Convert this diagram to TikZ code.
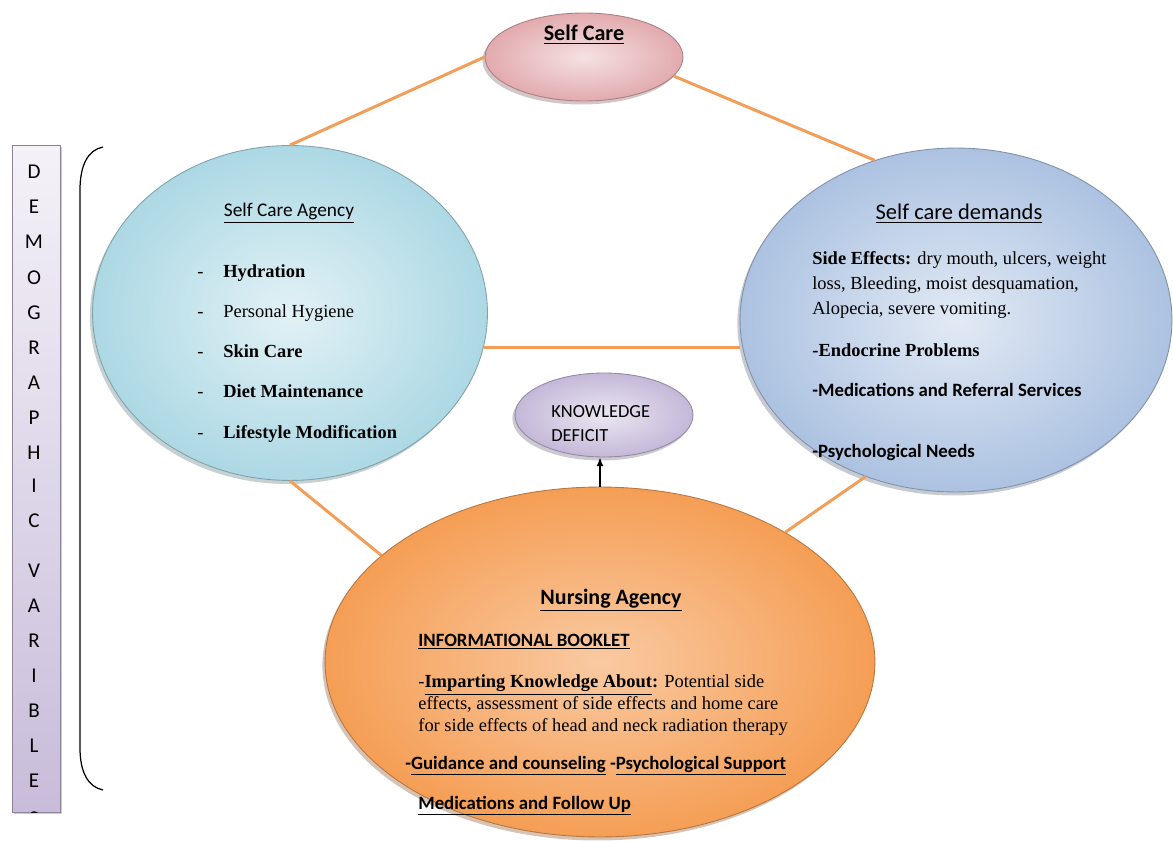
\documentclass[tikz,border=0pt]{standalone}
\usepackage{fontspec}
\setmainfont{Liberation Serif}
\newfontfamily\calibri{Carlito}
\usepackage{xcolor}
\usetikzlibrary{arrows.meta,shapes.geometric,shadows}

\definecolor{linkorange}{RGB}{242,158,88}
\definecolor{agencyblue}{RGB}{172,216,228}
\definecolor{demandblue}{RGB}{172,194,225}
\definecolor{nursingorange}{RGB}{245,158,85}
\definecolor{carepink}{RGB}{226,170,174}
\definecolor{deficitlilac}{RGB}{196,184,216}
\definecolor{barlilac}{RGB}{200,188,218}

\begin{document}
\begin{tikzpicture}[x=0.02cm,y=-0.02cm,
	bubble/.style={ellipse,draw=#1!75!black,line width=0.5pt,inner color=#1!35,outer color=#1,
		drop shadow={shadow xshift=-1.5pt,shadow yshift=-2pt,fill=#1!55!black,opacity=0.35}},
	orangelink/.style={draw=linkorange,line width=1.7pt},
	headtxt/.style={font=\calibri\fontsize{11}{13}\selectfont,anchor=base,inner sep=0pt},
	bodytxt/.style={font=\fontsize{10.5}{12.2}\selectfont,anchor=base west,inner sep=0pt},
	sanslbl/.style={font=\calibri\bfseries\fontsize{10.7}{12.5}\selectfont,anchor=base west,inner sep=0pt}]
	
	\clip (0,0) rectangle (1173,841);
	
	% demographic bar and brace
	\node[draw=barlilac!70!black,line width=0.4pt,top color=barlilac!20,bottom color=barlilac,
		minimum width=0.96cm,minimum height=13.34cm,inner sep=0pt,
		drop shadow={shadow xshift=1.2pt,shadow yshift=-1.2pt,opacity=0.4}] (demo) at (36,478.5) {};
	\begin{scope}
		\clip (demo.south west) rectangle (demo.north east);
		\foreach \y/\ch [count=\i] in {172/D,207/E,242/M,277/O,312/G,347/R,382/A,417/P,452/H,485/I,520/C,
			570/V,605/A,640/R,675/I,710/B,745/L,780/E,818/S}
		\node[font=\calibri\fontsize{12}{14}\selectfont,anchor=base,inner sep=0pt] (demoletter\i) at (34,\y+7) {\ch};
	\end{scope}
	\draw[line width=0.7pt] (103,147) .. controls (88,150) and (80,165) .. (80,190)
		-- (80,748) .. controls (80,772) and (88,787) .. (103,790);
	
	% ellipses
	\node[bubble=carepink,minimum width=3.96cm,minimum height=1.76cm] (care) at (584,57) {};
	\node[bubble=agencyblue,minimum width=7.9cm,minimum height=6.7cm] (agency) at (290,313) {};
	\node[bubble=demandblue,minimum width=8.64cm,minimum height=6.88cm] (demand) at (956,320) {};
	\node[bubble=nursingorange,inner color=nursingorange!55,minimum width=11cm,minimum height=7cm] (nursing) at (600,662) {};
	\node[bubble=deficitlilac,minimum width=3.56cm,minimum height=1.68cm] (deficit) at (604,415) {};
	
	% links
	\draw[orangelink] (care.west) -- (agency.north);
	\draw[orangelink] (care.-12) -- (demand.117);
	\draw[orangelink] (agency.-10) -- (agency.-10 -| demand.west);
	\draw[orangelink] (agency.south) -- (nursing.154);
	\draw[orangelink] (demand.-120) -- (nursing.35);
	\draw[-{Latex[length=5pt,width=4pt]},line width=0.8pt] (nursing.north -| 600,0) -- (600,0 |- deficit.south);
	
	% self care
	\node[headtxt,font=\calibri\bfseries\fontsize{12.6}{14}\selectfont] (caretitle) at (584,41) {\underline{Self Care}};
	
	% self care agency
	\node[headtxt,font=\calibri\fontsize{11}{13}\selectfont] (agencytitle) at (289,217) {\underline{Self Care Agency}};
	\foreach \y/\txt [count=\i] in {277/\textbf{Hydration},317/Personal Hygiene,357/\textbf{Skin Care},397/\textbf{Diet Maintenance},438/\textbf{Lifestyle Modification}}{
		\node[bodytxt] (agencydash\i) at (197,\y) {-};
		\node[bodytxt] (agencyitem\i) at (223,\y) {\txt};
	}
	
	% self care demands
	\node[headtxt,font=\calibri\fontsize{12.8}{15}\selectfont] (demandtitle) at (959,220) {\underline{Self care demands}};
	\node[bodytxt,align=left,font=\fontsize{10.5}{14.3}\selectfont] (sideeffects) at (812,315)
		{\textbf{Side Effects:} dry mouth, ulcers, weight\\loss, Bleeding, moist desquamation,\\Alopecia, severe vomiting.};
	\node[bodytxt,font=\bfseries\fontsize{10.5}{12.2}\selectfont] (endocrine) at (812,356) {-Endocrine Problems};
	\node[sanslbl] (referral) at (812,396) {-Medications and Referral Services};
	\node[sanslbl] (psychneeds) at (812,457) {-Psychological Needs};
	
	% knowledge deficit
	\node[sanslbl,font=\calibri\fontsize{10.5}{13.5}\selectfont,align=left] (deficittxt) at (551,441) {KNOWLEDGE\\DEFICIT};
	
	% nursing agency
	\node[headtxt,font=\calibri\bfseries\fontsize{12.5}{14}\selectfont] (nursingtitle) at (611,604) {\underline{Nursing Agency}};
	\node[sanslbl] (booklet) at (418,646) {\underline{INFORMATIONAL BOOKLET}};
	\node[bodytxt,align=left,font=\fontsize{10.5}{12.3}\selectfont] (imparting) at (418,731)
		{-\underline{\textbf{Imparting Knowledge About}}\textbf{:} Potential side\\effects, assessment of side effects and home care\\for side effects of head and neck radiation therapy};
	\node[sanslbl] (guidance) at (405,769) {-\underline{Guidance and counseling} -\underline{Psychological Support}};
	\node[sanslbl] (followup) at (418,809) {\underline{Medications and Follow Up}};
	
\end{tikzpicture}
\end{document}
